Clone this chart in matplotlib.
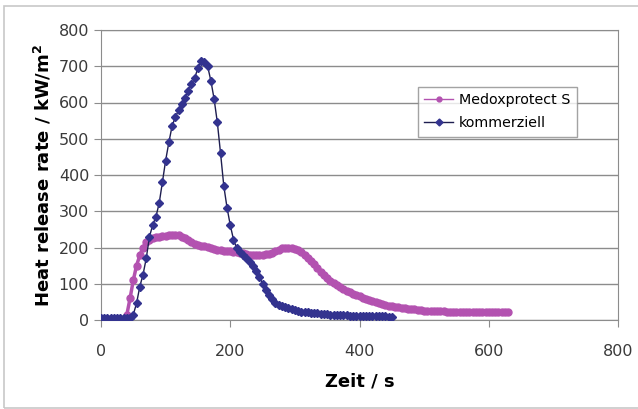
import numpy as np
import matplotlib.pyplot as plt
from matplotlib.patches import Rectangle

# Zeit in s (5 s Raster)
t_medox = np.arange(0, 635, 5)
t_komm = np.arange(0, 455, 5)

hrr_medox = [3, 3, 3, 3, 3, 3, 3, 3, 15, 60,
             110, 150, 178, 200, 215, 222, 226, 228, 230, 231,
             232, 234, 235, 235, 234, 230, 225, 220, 215, 210,
             207, 205, 203, 201, 198, 195, 193, 192, 191, 190,
             189, 188, 187, 186, 184, 182, 180, 179, 179, 179,
             180, 181, 183, 185, 190, 194, 198, 200, 200, 198,
             196, 192, 188, 180, 172, 163, 154, 144, 133, 123,
             115, 108, 102, 96, 90, 85, 80, 76, 72, 68,
             65, 62, 59, 56, 53, 50, 47, 45, 42, 40,
             38, 36, 35, 33, 32, 31, 30, 29, 28, 27,
             26, 26, 25, 25, 24, 24, 24, 23, 23, 23,
             23, 22, 22, 22, 22, 22, 22, 22, 22, 22,
             22, 22, 22, 22, 22, 22, 22]

hrr_komm = [5, 5, 5, 5, 5, 5, 5, 5, 5, 6,
            15, 46, 92, 125, 170, 230, 262, 285, 322, 380,
            440, 490, 535, 560, 578, 595, 612, 632, 650, 668,
            695, 715, 712, 700, 660, 610, 545, 460, 370, 310,
            262, 222, 198, 188, 180, 172, 160, 148, 135, 120,
            100, 82, 68, 58, 48, 42, 38, 35, 32, 29,
            27, 25, 23, 22, 21, 20, 19, 18, 17, 16,
            16, 15, 15, 14, 14, 13, 13, 12, 12, 12,
            11, 11, 11, 11, 10, 10, 10, 10, 10, 9,
            9]

pink = '#B352B0'
navy = '#33338F'

fig = plt.figure(figsize=(6.38, 4.09), dpi=100)
ax = fig.add_axes([101 / 638, 89 / 409, 517 / 638, 290 / 409])

ax.plot(t_medox, hrr_medox, color=pink, lw=2.5, marker='o', ms=5,
        mec=pink, mfc=pink, label='Medoxprotect S', zorder=3)
ax.plot(t_komm, hrr_komm, color='#1E1E50', lw=1.0, marker='D', ms=4.5,
        mec=navy, mfc=navy, label='kommerziell', zorder=4)

ax.set_xlim(0, 800)
ax.set_ylim(0, 800)
ax.set_xticks(range(0, 801, 200))
ax.set_yticks(range(0, 801, 100))
ax.grid(axis='y', color='#8C8C8C', lw=1.0)
ax.set_axisbelow(True)
for s in ax.spines.values():
    s.set_color('#8C8C8C')
ax.tick_params(colors='#8C8C8C', labelcolor='#3A3A3A', labelsize=11.5,
               length=5, direction='out')
ax.tick_params(axis='x', pad=12)

ax.set_xlabel('Zeit / s', fontsize=13, fontweight='bold', labelpad=10)
ax.set_ylabel('Heat release rate / kW/m$^\\mathbf{2}$', fontsize=13,
              fontweight='bold', labelpad=4)

leg = ax.legend(loc='upper left', bbox_to_anchor=(0.613, 0.805),
                fontsize=10.3, frameon=True, fancybox=False,
                borderpad=0.45, handlelength=2.0, handletextpad=0.4,
                labelspacing=0.65, borderaxespad=0)
leg.get_frame().set_edgecolor('#8C8C8C')
leg.get_frame().set_linewidth(1.0)
for h in leg.legend_handles:
    h.set_markersize(3.5)
    h.set_linewidth(1.0)

# Rahmen um die ganze Grafik
fig.patches.append(Rectangle((4 / 638, 1 / 409), 640 / 638, 402 / 409,
                             transform=fig.transFigure, fill=False,
                             edgecolor='#C8C8C8', lw=1.2))

fig.savefig('out.png', dpi=100)
